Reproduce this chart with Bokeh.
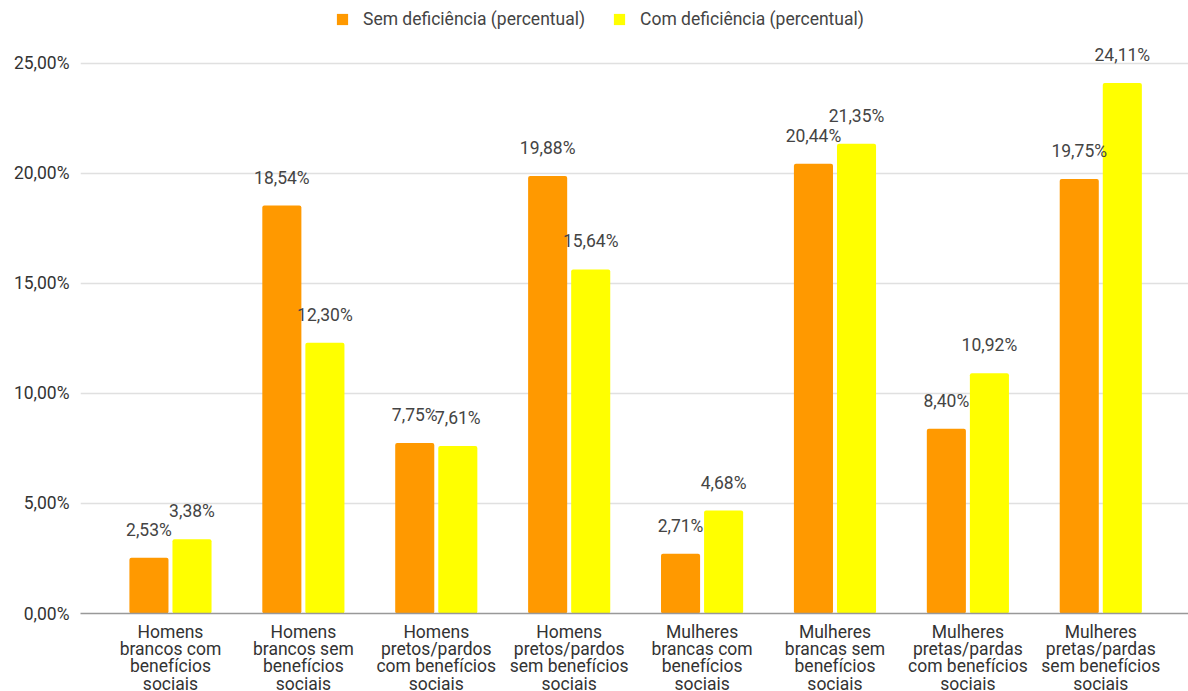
from bokeh.plotting import figure
from bokeh.models import (ColumnDataSource, Range1d, FixedTicker, Legend, LegendItem)
from bokeh.core.properties import value
from bokeh.embed import file_html
from bokeh.resources import INLINE

# Categories (group labels, line-broken as on the axis)
categories = [
    "Homens\nbrancos com\nbenefícios\nsociais",
    "Homens\nbrancos sem\nbenefícios\nsociais",
    "Homens\npretos/pardos\ncom benefícios\nsociais",
    "Homens\npretos/pardos\nsem benefícios\nsociais",
    "Mulheres\nbrancas com\nbenefícios\nsociais",
    "Mulheres\nbrancas sem\nbenefícios\nsociais",
    "Mulheres\npretas/pardas\ncom benefícios\nsociais",
    "Mulheres\npretas/pardas\nsem benefícios\nsociais",
]

# Series values (percent)
sem_deficiencia = [2.53, 18.54, 7.75, 19.88, 2.71, 20.44, 8.40, 19.75]
com_deficiencia = [3.38, 12.30, 7.61, 15.64, 4.68, 21.35, 10.92, 24.11]

series_names = ["Sem deficiência (percentual)", "Com deficiência (percentual)"]
y_ticks = [0, 5, 10, 15, 20, 25]

ORANGE = "#ff9900"
YELLOW = "#ffff00"
FONT = "Roboto"
FS = "17.5px"


def pct(v):
    return f"{v:.2f}".replace(".", ",") + "%"


idx = list(range(len(categories)))
OFFSET = 0.162
BAR_W = 0.294
FRAME_H = 613

src_sem = ColumnDataSource(dict(
    x=[i - OFFSET for i in idx], top=sem_deficiencia,
    label=[pct(v) for v in sem_deficiencia]))
src_com = ColumnDataSource(dict(
    x=[i + OFFSET for i in idx], top=com_deficiencia,
    label=[pct(v) for v in com_deficiencia]))

p = figure(
    frame_width=1108, frame_height=FRAME_H,
    x_range=Range1d(-0.677, 7.66), y_range=Range1d(0, 27.86),
    output_backend="svg", toolbar_location=None,
    min_border_left=80, min_border_right=0, min_border_top=0,
    min_border_bottom=0,
)
p.outline_line_color = None
p.background_fill_color = "white"
p.border_fill_color = "white"

r_sem = p.vbar(x="x", top="top", width=BAR_W, source=src_sem,
               fill_color=ORANGE, line_color=None, border_radius=2)
r_com = p.vbar(x="x", top="top", width=BAR_W, source=src_com,
               fill_color=YELLOW, line_color=None, border_radius=2)

for src in (src_sem, src_com):
    p.text(x="x", y="top", text="label", source=src,
           text_font=value(FONT), text_font_size=FS,
           text_color="#444444", text_align="center",
           text_baseline="alphabetic", y_offset=-28)

# Axes
p.xaxis.ticker = FixedTicker(ticks=idx)
p.xaxis.major_label_overrides = {i: c for i, c in zip(idx, categories)}
p.xaxis.major_label_text_font = FONT
p.xaxis.major_label_text_font_size = FS
p.xaxis.major_label_text_color = "#333333"
p.xaxis.major_label_text_line_height = 0.87
p.xaxis.major_label_standoff = 2
p.xaxis.major_tick_line_color = None
p.xaxis.minor_tick_line_color = None
p.xaxis.axis_line_color = "#999999"
p.xaxis.axis_line_width = 1.5

p.yaxis.ticker = FixedTicker(ticks=y_ticks)
p.yaxis.major_label_overrides = {t: pct(t) for t in y_ticks}
p.yaxis.major_label_text_font = FONT
p.yaxis.major_label_text_font_size = FS
p.yaxis.major_label_text_color = "#333333"
p.yaxis.major_label_standoff = 5
p.yaxis.major_tick_line_color = None
p.yaxis.minor_tick_line_color = None
p.yaxis.axis_line_color = None

p.xgrid.grid_line_color = None
p.ygrid.ticker = FixedTicker(ticks=y_ticks[1:])
p.ygrid.grid_line_color = "#e0e0e0"
p.ygrid.grid_line_width = 1.5

legend = Legend(
    items=[LegendItem(label=series_names[0], renderers=[r_sem]),
           LegendItem(label=series_names[1], renderers=[r_com])],
    orientation="horizontal", location=(255, FRAME_H - 29),
    glyph_width=14, glyph_height=14, label_standoff=14, spacing=27,
    padding=0, margin=0, border_line_color=None,
    background_fill_alpha=0,
    label_text_font=FONT, label_text_font_size=FS,
    label_text_color="#444444", label_height=20,
)
p.add_layout(legend, "center")

open("out.html", "w").write(file_html(p, INLINE))
